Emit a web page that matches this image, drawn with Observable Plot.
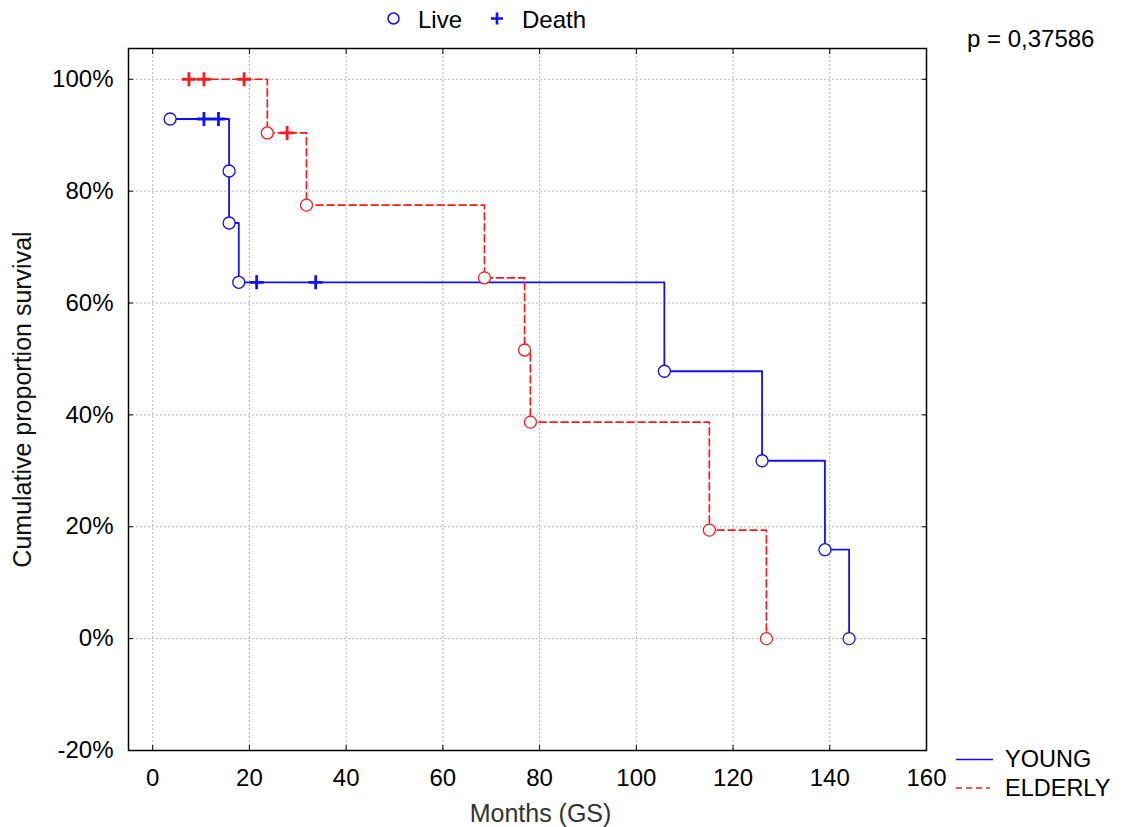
<!DOCTYPE html>
<html><head><meta charset="utf-8">
<script src="https://cdn.jsdelivr.net/npm/d3@7"></script>
<script src="https://cdn.jsdelivr.net/npm/@observablehq/plot@0.6"></script>
<style>
body{margin:0;background:#fff;font-family:"Liberation Sans",Arial,sans-serif;}
#wrap{position:relative;width:1124px;height:827px;}
#wrap svg{display:block}
#ann{position:absolute;left:0;top:0;pointer-events:none}
</style></head><body><div id="wrap"></div>
<script>
// ---- data ----
const groups = ["YOUNG", "ELDERLY"];
const groupColors = ["#1010ff", "#ff1a1a"];

const youngEventMonths = [3.6, 15.8, 15.8, 17.8, 105.8, 126.0, 139.0, 144.0];
const youngEventSurvival = [92.9, 83.6, 74.3, 63.7, 47.8, 31.8, 15.9, 0];
const youngCensorMonths = [10.6, 13.6, 21.5, 33.7];
const youngCensorSurvival = [92.9, 92.9, 63.7, 63.7];

const elderlyEventMonths = [23.7, 31.8, 68.6, 76.9, 78.1, 115.1, 126.9];
const elderlyEventSurvival = [90.4, 77.5, 64.5, 51.6, 38.7, 19.4, 0];
const elderlyCensorMonths = [7.5, 10.6, 18.9, 27.8];
const elderlyCensorSurvival = [100, 100, 100, 90.4];

const xTicks = [0, 20, 40, 60, 80, 100, 120, 140, 160];
const yTicks = [-20, 0, 20, 40, 60, 80, 100];
const pValueText = "p = 0,37586";
const xTitle = "Months (GS)";
const yTitle = "Cumulative proportion survival";

// ---- build table ----
function rowsFor(group, em, es, cm, cs) {
  const r = [];
  em.forEach((t, i) => r.push({group, time: t, surv: es[i], status: "event"}));
  cm.forEach((t, i) => r.push({group, time: t, surv: cs[i], status: "censor"}));
  return r.sort((a, b) => a.time - b.time || b.surv - a.surv);
}
const young = rowsFor("YOUNG", youngEventMonths, youngEventSurvival, youngCensorMonths, youngCensorSurvival);
const elderly = rowsFor("ELDERLY", elderlyEventMonths, elderlyEventSurvival, elderlyCensorMonths, elderlyCensorSurvival);
const all = young.concat(elderly);
const events = all.filter(d => d.status === "event");
const censors = all.filter(d => d.status === "censor");

const FS = 24;
const chart = Plot.plot({
  width: 1124, height: 827,
  marginLeft: 128, marginRight: 198, marginTop: 48, marginBottom: 77,
  style: {fontFamily: '"Liberation Sans", Arial, sans-serif', fontSize: FS + "px", color: "#000", background: "#fff"},
  x: {domain: [-5, 160], ticks: xTicks},
  y: {domain: [-20, 105.5], ticks: yTicks},
  color: {domain: groups, range: groupColors},
  marks: [
    Plot.gridX(xTicks, {stroke: "#b5b5b5", strokeOpacity: 1, strokeDasharray: "2,2"}),
    Plot.gridY(yTicks, {stroke: "#b5b5b5", strokeOpacity: 1, strokeDasharray: "2,2"}),
    Plot.axisX(xTicks, {tickSize: -5, tickPadding: 23, label: null, fontSize: FS}),
    Plot.axisX(xTicks, {anchor: "top", tickSize: -5, tickFormat: () => "", label: null}),
    Plot.axisY(yTicks, {tickSize: -5, tickPadding: 20, label: null, fontSize: FS, tickFormat: d => d + "%"}),
    Plot.axisY(yTicks, {anchor: "right", tickSize: -5, tickFormat: () => "", label: null}),
    Plot.line(young, {x: "time", y: "surv", curve: "step-after", stroke: groupColors[0], strokeWidth: 1.8}),
    Plot.line(elderly, {x: "time", y: "surv", curve: "step-after", stroke: groupColors[1], strokeWidth: 1.7, strokeDasharray: "7,4"}),
    Plot.dot(events, {x: "time", y: "surv", r: 6, fill: "white", stroke: "group", strokeWidth: 1.3}),
    Plot.dot(censors, {x: "time", y: "surv", symbol: "plus", r: 4.6, stroke: "group", fill: "none", strokeWidth: 2.8}),
    Plot.frame({stroke: "#000", strokeWidth: 1.5}),
    Plot.text([xTitle], {frameAnchor: "bottom", text: d => d, dy: 71, dx: 13, fill: "#333", fontSize: 25, textAnchor: "middle"}),
    Plot.text([yTitle], {frameAnchor: "left", text: d => d, rotate: -90, dx: -106, fill: "#111", fontSize: 25, textAnchor: "middle"})
  ]
});
const wrap = document.getElementById("wrap");
wrap.appendChild(chart);

// ---- legends / annotation ----
const ns = "http://www.w3.org/2000/svg";
const ann = document.createElementNS(ns, "svg");
ann.setAttribute("id", "ann");
ann.setAttribute("width", 1124);
ann.setAttribute("height", 827);
ann.setAttribute("font-family", '"Liberation Sans", Arial, sans-serif');
ann.setAttribute("font-size", 24);
ann.innerHTML = `
  <circle cx="393.5" cy="18.5" r="5.5" fill="white" stroke="${groupColors[0]}" stroke-width="1.5"/>
  <text x="418" y="28" fill="#000">Live</text>
  <path d="M491,18.5H503M497,12.5V24.5" stroke="${groupColors[0]}" stroke-width="2.6" fill="none"/>
  <text x="522" y="28" fill="#000">Death</text>
  <text x="967" y="47" fill="#000">${pValueText}</text>
  <line x1="956" x2="993" y1="759.5" y2="759.5" stroke="${groupColors[0]}" stroke-width="1.6"/>
  <text x="1005" y="767" fill="#000" font-size="23.5">${groups[0]}</text>
  <line x1="956" x2="990" y1="788" y2="788" stroke="${groupColors[1]}" stroke-width="1.6" stroke-dasharray="6,4"/>
  <text x="1005" y="796" fill="#000" font-size="23.5">${groups[1]}</text>
`;
wrap.appendChild(ann);
</script>
</body></html>
